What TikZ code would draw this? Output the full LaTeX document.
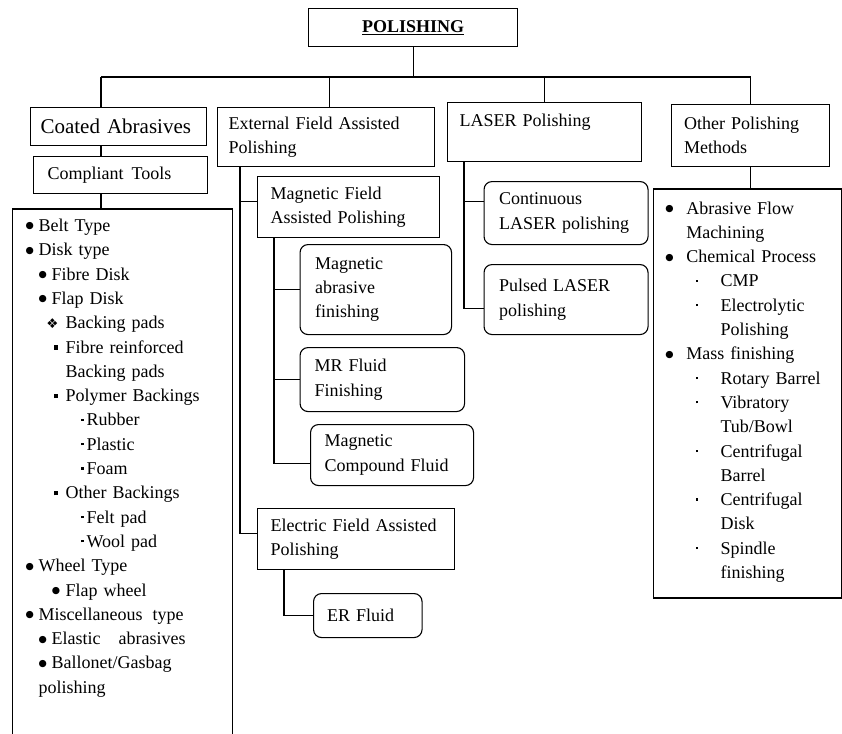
\documentclass[tikz,border=0pt]{standalone}
\usepackage{fontspec}
\setmainfont{Liberation Serif}
\newfontfamily\dingfont{DejaVu Sans}
\usetikzlibrary{positioning,calc}
\setlength{\parindent}{0pt}
\tikzset{font=\fontsize{18}{24.3}\selectfont}

% list markers
\newcommand{\lstitem}[3]{\makebox[#2][l]{\hspace*{#1}#3}}
\newcommand{\bul}{\hspace*{-2pt}\raisebox{2.6pt}{\dingfont\fontsize{9.5}{9.5}\selectfont ●}}
\newcommand{\sqb}{\raisebox{3.5pt}{\rule{4.6pt}{4.6pt}}}
\newcommand{\dotb}{\raisebox{5pt}{\rule{2.4pt}{2.4pt}}}
\newcommand{\diab}{{\dingfont\fontsize{13.5}{13.5}\selectfont ❖}}

\begin{document}
\begin{tikzpicture}[x=1pt,y=-1pt]
	\useasboundingbox (0,0) rectangle (842,733);
	\begin{scope}[line width=1.1pt]
		\tikzstyle{every node}=[align=left, inner ysep=0pt]
		\tikzstyle{box}=[draw, anchor=north west, inner xsep=12pt]
		\tikzstyle{rbox}=[box, rounded corners=8pt]
		\tikzstyle{list}=[draw, anchor=base west, inner sep=0pt]

		\node[box, align=center, inner xsep=0pt, minimum width=209pt, minimum height=38pt] (pol) at (308,8) {\underline{\textbf{POLISHING}}};

		\node[box, text width=155pt, inner xsep=10.5pt, minimum height=38pt, font=\fontsize{21}{24}\selectfont] (coat) at (29.5,107) {Coated Abrasives};
		\node[box, text width=195pt, inner xsep=11pt, minimum height=59pt] (ext) at (217,107) {External Field Assisted\\Polishing};
		\node[box, text width=170pt, minimum height=59pt] (laser) at (447,102) {LASER Polishing\\\mbox{}};
		\node[box, text width=133pt, inner xsep=12.5pt, minimum height=62pt] (other) at (671,104) {Other Polishing\\Methods};

		\node[box, text width=146pt, inner xsep=14pt, minimum height=37pt] (compl) at (33,156) {Compliant\hspace{2pt} Tools};

		\node[box, text width=156pt, inner xsep=13pt, minimum height=61pt] (magf) at (257,176) {Magnetic Field\\Assisted Polishing};
		\node[rbox, text width=121.5pt, inner xsep=15pt, minimum height=90pt] (mab) at (299.5,244) {Magnetic\\abrasive\\finishing};
		\node[rbox, text width=135.5pt, inner xsep=14.5pt, minimum height=64pt] (mrf) at (299.5,347) {MR Fluid\\Finishing};
		\node[rbox, text width=135pt, inner xsep=14pt, minimum height=61pt] (mcf) at (310,424) {Magnetic\\Compound Fluid};
		\node[box, text width=171pt, inner xsep=13pt, minimum height=61pt] (elec) at (257,508) {Electric Field Assisted\\Polishing};
		\node[rbox, text width=81.5pt, inner xsep=13.5pt, minimum height=44pt] (er) at (313,593) {ER Fluid};

		\node[rbox, text width=134pt, inner xsep=15pt, minimum height=63pt] (cont) at (483.5,181) {Continuous\\LASER polishing};
		\node[rbox, text width=134pt, inner xsep=15pt, minimum height=70pt] (puls) at (483.5,264) {Pulsed LASER\\polishing};

		% coated abrasives list, runs off the page
		\node[list, text width=220pt, text height=22.5pt, text depth=520pt] (toollist) at (11.7,231.5) {%
			\lstitem{15.3pt}{26.3pt}{\bul}Belt Type\\
			\lstitem{15.3pt}{26.3pt}{\bul}Disk type\\
			\lstitem{28.3pt}{39.3pt}{\bul}Fibre Disk\\
			\lstitem{28.3pt}{39.3pt}{\bul}Flap Disk\\
			\lstitem{34pt}{53.3pt}{\diab}Backing pads\\
			\lstitem{41.6pt}{53.3pt}{\sqb}Fibre reinforced\\
			\hspace*{53.3pt}Backing pads\\
			\lstitem{41.6pt}{53.3pt}{\sqb}Polymer Backings\\
			\lstitem{69pt}{74.3pt}{\dotb}Rubber\\
			\lstitem{69pt}{74.3pt}{\dotb}Plastic\\
			\lstitem{69pt}{74.3pt}{\dotb}Foam\\
			\lstitem{41.6pt}{53.3pt}{\sqb}Other Backings\\
			\lstitem{69pt}{74.3pt}{\dotb}Felt pad\\
			\lstitem{69pt}{74.3pt}{\dotb}Wool pad\\
			\lstitem{15.3pt}{26.3pt}{\bul}Wheel Type\\
			\lstitem{41.6pt}{53.3pt}{\bul}Flap wheel\\
			\lstitem{15.3pt}{26.3pt}{\bul}Miscellaneous\hspace{4pt} type\\
			\lstitem{28.3pt}{39.3pt}{\bul}Elastic\hspace{12pt} abrasives\\
			\lstitem{28.3pt}{39.3pt}{\bul}Ballonet/Gasbag\\
			\hspace*{26.3pt}polishing};

		\node[list, text width=188pt, text height=25pt, text depth=384pt] (otherlist) at (653,214) {%
			\lstitem{13.7pt}{32.7pt}{\bul}Abrasive Flow\\
			\hspace*{32.7pt}Machining\\
			\lstitem{13.7pt}{32.7pt}{\bul}Chemical Process\\
			\lstitem{42pt}{67pt}{\dotb}CMP\\
			\lstitem{42pt}{67pt}{\dotb}Electrolytic\\
			\hspace*{67pt}Polishing\\
			\lstitem{13.7pt}{32.7pt}{\bul}Mass finishing\\
			\lstitem{42pt}{67pt}{\dotb}Rotary Barrel\\
			\lstitem{42pt}{67pt}{\dotb}Vibratory\\
			\hspace*{67pt}Tub/Bowl\\
			\lstitem{42pt}{67pt}{\dotb}Centrifugal\\
			\hspace*{67pt}Barrel\\
			\lstitem{42pt}{67pt}{\dotb}Centrifugal\\
			\hspace*{67pt}Disk\\
			\lstitem{42pt}{67pt}{\dotb}Spindle\\
			\hspace*{67pt}finishing};

		% main branches
		\coordinate (busL) at (101,77);
		\draw (pol.south) -- (pol.south |- busL);
		\draw (busL) -- (busL -| other.north);
		\draw (busL) -- (busL |- coat.north);
		\draw ([xshift=3.5pt]ext.north) -- ([xshift=3.5pt]ext.north |- busL);
		\draw (laser.north) -- (laser.north |- busL);
		\draw (other.north) -- (other.north |- busL);

		\draw (coat.south -| busL) -- (compl.north -| busL);
		\draw (compl.south -| busL) -- (toollist.north -| busL);
		\draw (other.south) -- (otherlist.north -| other.south);

		\draw ([xshift=23pt]ext.south west) |- ([yshift=5.5pt]magf.west);
		\draw ([xshift=23pt]ext.south west) |- ([yshift=5.5pt]elec.west);
		\draw ([xshift=17pt]magf.south west) |- (mab.west);
		\draw ([xshift=17pt]magf.south west) |- (mrf.west);
		\draw ([xshift=17pt]magf.south west) |- ([yshift=-8.5pt]mcf.west);
		\draw ([xshift=27pt]elec.south west) |- (er.west);

		\draw ([xshift=17pt]laser.south west) |- ([yshift=11.5pt]cont.west);
		\draw ([xshift=17pt]laser.south west) |- ([yshift=-9pt]puls.west);
	\end{scope}
\end{tikzpicture}
\end{document}
